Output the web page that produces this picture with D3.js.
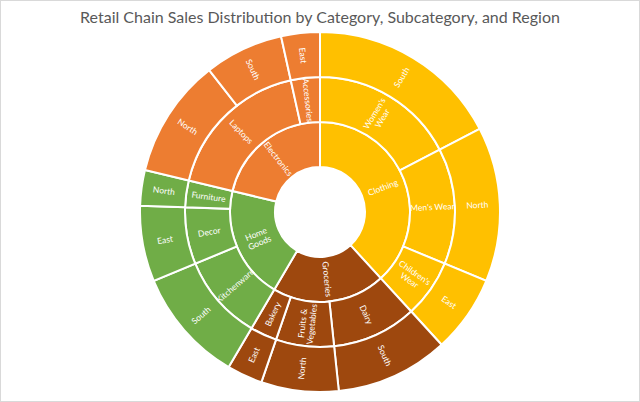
<!DOCTYPE html>
<html>
<head>
<meta charset="utf-8">
<script src="https://cdn.jsdelivr.net/npm/d3@7"></script>
<style>
  html, body { margin: 0; padding: 0; background: #fff; }
  svg { display: block; }
</style>
</head>
<body>
<div id="chart"></div>
<script>
// ---- Data ----
const titleText = "Retail Chain Sales Distribution by Category, Subcategory, and Region";
const categories = ["Clothing", "Groceries", "Home Goods", "Electronics"];
const categoryColors = ["#FFC000", "#9E480E", "#70AD47", "#ED7D31"];
const leafCategory = ["Clothing", "Clothing", "Clothing",
  "Groceries", "Groceries", "Groceries",
  "Home Goods", "Home Goods", "Home Goods",
  "Electronics", "Electronics", "Electronics"];
const leafSubcategory = ["Women's Wear", "Men's Wear", "Children's Wear",
  "Dairy", "Fruits & Vegetables", "Bakery",
  "Kitchenware", "Decor", "Furniture",
  "Laptops", "Laptops", "Accessories"];
const leafRegion = ["South", "North", "East",
  "South", "North", "East",
  "South", "East", "North",
  "North", "South", "East"];
const leafSales = [125, 100, 50,
  73, 50, 23,
  74, 49, 23,
  77, 51, 25];

// ---- Build hierarchy (keeps data order) ----
const rootData = { name: "root", children: [] };
categories.forEach(c => rootData.children.push({ name: c, children: [] }));
leafSales.forEach((v, i) => {
  const cat = rootData.children.find(n => n.name === leafCategory[i]);
  let sub = cat.children.find(n => n.name === leafSubcategory[i]);
  if (!sub) { sub = { name: leafSubcategory[i], children: [] }; cat.children.push(sub); }
  sub.children.push({ name: leafRegion[i], value: v });
});

const W = 640, H = 402;
const cx = 320, cy = 212, R = 180;

const svg = d3.select("#chart").append("svg")
  .attr("width", W).attr("height", H);

svg.append("rect").attr("x", 0.5).attr("y", 0.5)
  .attr("width", W - 1).attr("height", H - 1)
  .attr("fill", "#fff").attr("stroke", "#d9d9d9");

svg.append("text")
  .attr("x", W / 2).attr("y", 23)
  .attr("text-anchor", "middle")
  .attr("font-family", "Lato, 'Open Sans', sans-serif")
  .attr("font-size", 16)
  .attr("fill", "#595959")
  .text(titleText);

const root = d3.hierarchy(rootData).sum(d => d.value || 0);
d3.partition().size([2 * Math.PI, 4])(root);

const rScale = d3.scaleLinear().domain([0, 4]).range([0, R]);
const color = d3.scaleOrdinal().domain(categories).range(categoryColors);
const catOf = d => { let n = d; while (n.depth > 1) n = n.parent; return n.data.name; };

const arc = d3.arc()
  .startAngle(d => d.x0).endAngle(d => d.x1)
  .innerRadius(d => rScale(d.y0)).outerRadius(d => rScale(d.y1));

const g = svg.append("g").attr("transform", `translate(${cx},${cy})`);
const nodes = root.descendants().filter(d => d.depth > 0);

g.selectAll("path").data(nodes).join("path")
  .attr("d", arc)
  .attr("fill", d => color(catOf(d)))
  .attr("stroke", "#fff")
  .attr("stroke-width", 2);

const ringW = rScale(1) - rScale(0);
const labels = g.selectAll("g.lab").data(nodes).join("g").attr("class", "lab")
  .attr("transform", d => {
    const a = (d.x0 + d.x1) / 2 * 180 / Math.PI;
    const r = rScale((d.y0 + d.y1) / 2);
    const x = r * Math.sin(a * Math.PI / 180), y = -r * Math.cos(a * Math.PI / 180);
    const rot = a < 180 ? a - 90 : a - 270;
    return `translate(${x},${y}) rotate(${rot})`;
  });

labels.each(function (d) {
  const t = d3.select(this).append("text")
    .attr("text-anchor", "middle")
    .attr("font-family", "Lato, 'Open Sans', sans-serif")
    .attr("font-size", 8.5)
    .attr("fill", "#fff");
  t.text(d.data.name).attr("dy", "0.35em");
  const len = t.node().getComputedTextLength();
  const name = d.data.name;
  if (len > ringW && name.indexOf(" ") > 0) {
    const k = name.lastIndexOf(" ");
    const parts = [name.slice(0, k), name.slice(k + 1)];
    t.text(null).attr("dy", null);
    parts.forEach((p, i) => {
      t.append("tspan").attr("x", 0)
        .attr("dy", i === 0 ? "-0.2em" : "1.1em")
        .text(p);
    });
  }
});
</script>
</body>
</html>
